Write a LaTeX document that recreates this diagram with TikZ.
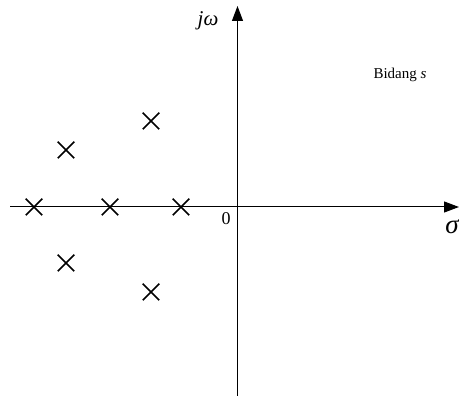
\documentclass[tikz,border=0pt]{standalone}
\usepackage{fontspec}
\setmainfont{Liberation Serif}
\usetikzlibrary{arrows.meta,shapes.misc}
\begin{document}
\begin{tikzpicture}[x=1pt,y=-1pt,
  axis/.style={line width=1pt,-{Triangle[length=15pt,width=11pt]}},
  pole/.style={draw,cross out,line width=1.5pt,minimum size=15pt,inner sep=0pt},
  lbl/.style={inner sep=0pt}]
\useasboundingbox (0,0) rectangle (459,406);
\coordinate (xl) at (10,207);
\coordinate (xr) at (459,207);
\coordinate (yb) at (237.5,396);
\coordinate (yt) at (237.5,6);
\draw[axis] (xl) -- (xr);
\draw[axis] (yb) -- (yt);
\node[pole] (p1) at (34,207) {};
\node[pole] (p2) at (110,207) {};
\node[pole] (p3) at (181,207) {};
\node[pole] (p4) at (66,150) {};
\node[pole] (p5) at (151,121) {};
\node[pole] (p6) at (66,263) {};
\node[pole] (p7) at (151,292) {};
\node[lbl,font=\fontsize{21}{24}\selectfont\itshape] (jw) at (208,21) {jω};
\node[lbl,font=\fontsize{27}{30}\selectfont\itshape] (sig) at (452,227) {σ};
\node[lbl,font=\fontsize{18}{21}\selectfont] (zero) at (226,219) {0};
\node[lbl,font=\fontsize{15}{18}\selectfont] (bid) at (400,75) {Bidang \textit{s}};
\end{tikzpicture}
\end{document}
